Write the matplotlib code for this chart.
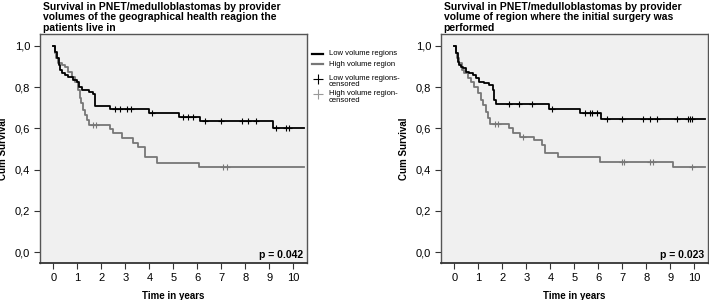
import numpy as np
import matplotlib
matplotlib.use("Agg")
import matplotlib.pyplot as plt
from matplotlib.lines import Line2D

plt.rcParams['font.family'] = ['Liberation Sans', 'DejaVu Sans']

# --- data (Kaplan-Meier steps) ---
titles = ["Survival in PNET/medulloblastomas by provider\nvolumes of the geographical health reagion the\npatients live in",
          "Survival in PNET/medulloblastomas by provider\nvolume of region where the initial surgery was\nperformed"]
p_values = ["p = 0.042", "p = 0.023"]
t_end = 10.45

# left panel
low1_t = [0, 0.08, 0.15, 0.22, 0.28, 0.35, 0.5, 0.6, 0.83, 0.97, 1.05, 1.18, 1.5, 1.65, 1.75, 2.36, 4.0, 5.25, 6.11, 9.14]
low1_s = [1.0, 0.97, 0.94, 0.91, 0.885, 0.868, 0.858, 0.848, 0.835, 0.826, 0.803, 0.786, 0.778, 0.768, 0.709, 0.692, 0.676, 0.655, 0.635, 0.60]
low1_cens = [2.57, 2.78, 3.06, 3.24, 4.1, 5.42, 5.62, 5.83, 6.32, 6.99, 7.85, 8.13, 8.45, 9.28, 9.7, 9.83]
high1_t = [0, 0.05, 0.12, 0.2, 0.35, 0.5, 0.63, 0.77, 0.9, 1.02, 1.1, 1.17, 1.25, 1.32, 1.39, 1.47,
           2.36, 2.5, 2.85, 3.33, 3.54, 3.82, 4.31, 6.08]
high1_s = [1.0, 0.965, 0.94, 0.916, 0.908, 0.9, 0.876, 0.851, 0.827, 0.786, 0.746, 0.722, 0.689, 0.665, 0.641, 0.616,
           0.595, 0.576, 0.552, 0.531, 0.511, 0.463, 0.434, 0.414]
high1_cens = [1.64, 1.78, 7.08, 7.22]

# right panel
low2_t = [0, 0.07, 0.14, 0.21, 0.28, 0.35, 0.49, 0.63, 0.77, 0.9, 1.04, 1.25, 1.46, 1.6, 1.67, 1.74, 3.94, 5.22, 6.1]
low2_s = [1.0, 0.964, 0.924, 0.908, 0.9, 0.892, 0.876, 0.867, 0.859, 0.843, 0.827, 0.819, 0.811, 0.786, 0.738, 0.716, 0.695, 0.674, 0.647]
low2_cens = [2.27, 2.68, 3.22, 4.06, 5.45, 5.65, 5.72, 5.96, 6.35, 6.97, 7.88, 8.15, 8.43, 9.27, 9.75, 9.82, 9.89]
high2_t = [0, 0.05, 0.12, 0.2, 0.3, 0.42, 0.56, 0.7, 0.83, 0.97, 1.11, 1.18, 1.32, 1.42, 1.5,
           2.29, 2.46, 2.74, 3.3, 3.65, 3.78, 4.34, 6.07, 9.12]
high2_s = [1.0, 0.964, 0.94, 0.916, 0.884, 0.867, 0.843, 0.827, 0.803, 0.77, 0.738, 0.714, 0.681, 0.649, 0.622,
           0.601, 0.579, 0.56, 0.544, 0.52, 0.479, 0.463, 0.438, 0.414]
high2_cens = [1.69, 1.83, 2.88, 6.97, 7.07, 8.15, 8.29, 9.89]

legend_labels = ["Low volume regions", "High volume region",
                 "Low volume regions-\ncensored", "High volume region-\ncensored"]

black = "#000000"
gray = "#777777"
cens_gray = "#999999"


def km(ax, t, s, cens, color):
    tt = list(t) + [t_end]
    ss = list(s) + [s[-1]]
    ax.step(tt, ss, where="post", color=color, lw=1.3)
    idx = np.searchsorted(t, cens, side="right") - 1
    ax.plot(cens, np.array(s)[idx], "+", color=color, ms=4, mew=0.8)


fig = plt.figure(figsize=(7.09, 3.0), dpi=100)
ax1 = fig.add_axes([40 / 709, 1 - 263 / 300, 267 / 709, 229 / 300])
ax2 = fig.add_axes([441 / 709, 1 - 263 / 300, 267 / 709, 229 / 300])

panels = [(ax1, low1_t, low1_s, low1_cens, high1_t, high1_s, high1_cens),
          (ax2, low2_t, low2_s, low2_cens, high2_t, high2_s, high2_cens)]

for i, (ax, lt, ls, lc, ht, hs, hc) in enumerate(panels):
    ax.set_facecolor("#f0f0f0")
    km(ax, ht, hs, hc, gray)
    km(ax, lt, ls, lc, black)
    ax.set_xlim(-0.555, 10.57)
    ax.set_ylim(-0.053, 1.058)
    ax.set_xticks(range(0, 11))
    ax.set_yticks([0, 0.2, 0.4, 0.6, 0.8, 1.0])
    ax.set_yticklabels(["0,0", "0,2", "0,4", "0,6", "0,8", "1,0"])
    ax.tick_params(labelsize=8, length=4, width=0.8, color="#333333", pad=3)
    for sp in ax.spines.values():
        sp.set_color("#555555")
        sp.set_linewidth(1.0)
    ax.spines["bottom"].set_color("#333333")
    ax.spines["bottom"].set_linewidth(1.3)
    ax.set_xlabel("Time in years", fontsize=7, fontweight="bold", labelpad=6)
    ax.set_ylabel("Cum Survival", fontsize=7, fontweight="bold")
    ax.yaxis.set_label_coords(-0.118, 0.5)
    ax.text(0.985, 0.015, p_values[i], transform=ax.transAxes, ha="right", va="bottom",
            fontsize=7.5, fontweight="bold")
    ax.text(0.01, 1.005, titles[i], transform=ax.transAxes, ha="left", va="bottom",
            fontsize=7.5, fontweight="bold", linespacing=1.08)

# legend between the panels
lx0, lx1, tx = 312 / 709, 323 / 709, 329 / 709
for y, c in [(54, black), (64, gray)]:
    fig.add_artist(Line2D([lx0, lx1], [1 - y / 300] * 2, color=c, lw=1.6, transform=fig.transFigure))
for y, c in [(79, black), (94, cens_gray)]:
    fig.add_artist(Line2D([(lx0 + lx1) / 2], [1 - y / 300], marker="+", ms=7, mew=0.8, color=c,
                          transform=fig.transFigure))
for y, lab in zip([54, 64, 79, 94], legend_labels):
    if "\n" in lab:
        fig.text(tx, 1 - (y - 4) / 300, lab, fontsize=5.5, va="top", linespacing=0.9)
    else:
        fig.text(tx, 1 - y / 300, lab, fontsize=5.5, va="center")

fig.savefig("out.png", dpi=100)
